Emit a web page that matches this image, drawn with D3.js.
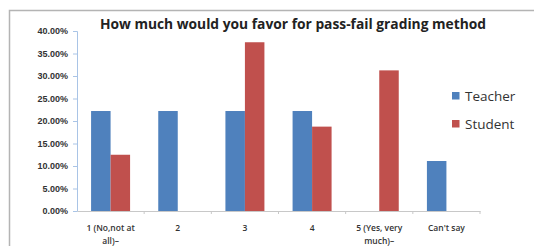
<!DOCTYPE html>
<html>
<head>
<meta charset="utf-8">
<script src="https://cdn.jsdelivr.net/npm/d3@7"></script>
<style>
  body { margin: 0; background: #fff; }
  svg { display: block; font-family: 'Open Sans', 'Liberation Sans', sans-serif; }
</style>
</head>
<body>
<div id="chart"></div>
<script>
const categories = ['1 (No,not at all)\u2013', '2', '3', '4', '5 (Yes, very much)\u2013', "Can't say"];
const catLines = [['1 (No,not at', 'all)\u2013'], ['2'], ['3'], ['4'], ['5 (Yes, very', 'much)\u2013'], ["Can't say"]];
const teacher = [22.22, 22.22, 22.22, 22.22, 0, 11.11];
const student = [12.5, 0, 37.5, 18.75, 31.25, 0];
const seriesNames = ['Teacher', 'Student'];
const colors = ['#4F81BD', '#C0504D'];
const yTicks = [0, 5, 10, 15, 20, 25, 30, 35, 40];

const W = 534, H = 246;
const margin = { top: 31, right: 54, bottom: 35, left: 77 };
const width = W - margin.left - margin.right;
const height = H - margin.top - margin.bottom;

const svg = d3.select('#chart').append('svg').attr('width', W).attr('height', H);

// chart frame (only top and left edges are visible in the crop)
svg.append('path')
  .attr('d', `M9.5,${H} V10.5 H${W}`)
  .attr('fill', 'none')
  .attr('stroke', '#b4b4b4')
  .attr('stroke-width', 1.5);

svg.append('text')
  .attr('x', 293)
  .attr('y', 29)
  .attr('text-anchor', 'middle')
  .attr('font-weight', 'bold')
  .attr('font-size', 13.8)
  .attr('fill', '#222')
  .text('How much would you favor for pass-fail grading method');

const g = svg.append('g').attr('transform', `translate(${margin.left},${margin.top})`);

const x = d3.scaleBand().domain(categories).range([0, width]);
const x1 = d3.scaleBand().domain(seriesNames).range([x.bandwidth() / 2 - 19.5, x.bandwidth() / 2 + 19.5]);
const y = d3.scaleLinear().domain([0, 40]).range([height, 0]);

// y axis
const yAxis = g.append('g')
  .call(d3.axisLeft(y).tickValues(yTicks).tickSize(4).tickPadding(5)
    .tickFormat(d => d.toFixed(2) + '%'));
yAxis.select('.domain').attr('stroke', '#a9c4e6');
yAxis.selectAll('.tick line').attr('stroke', '#a9c4e6');
yAxis.selectAll('text').attr('font-size', 9).attr('font-weight', 600).attr('fill', '#333');

// bars
const data = [teacher, student];
data.forEach((vals, si) => {
  g.selectAll('.bar' + si)
    .data(vals)
    .enter()
    .append('rect')
    .attr('x', (d, i) => x(categories[i]) + x1(seriesNames[si]))
    .attr('y', d => y(d))
    .attr('width', x1.bandwidth())
    .attr('height', d => height - y(d))
    .attr('fill', colors[si]);
});

// x axis
const xAxis = g.append('g')
  .attr('transform', `translate(0,${height})`)
  .call(d3.axisBottom(x).tickSize(0).tickFormat(''));
xAxis.select('.domain').attr('stroke', '#c8c8c8');
g.append('g').selectAll('line')
  .data(categories)
  .enter()
  .append('line')
  .attr('x1', d => x(d) + x.bandwidth())
  .attr('x2', d => x(d) + x.bandwidth())
  .attr('y1', height)
  .attr('y2', height + 3)
  .attr('stroke', '#c8c8c8');

g.selectAll('.cat')
  .data(catLines)
  .enter()
  .append('text')
  .attr('text-anchor', 'middle')
  .attr('font-size', 8.5)
  .attr('font-weight', 600)
  .attr('fill', '#333')
  .attr('transform', (d, i) => `translate(${x(categories[i]) + x.bandwidth() / 2},${height + 20})`)
  .selectAll('tspan')
  .data(d => d)
  .enter()
  .append('tspan')
  .attr('x', 0)
  .attr('dy', (d, i) => i === 0 ? 0 : 13)
  .text(d => d);

// legend
const legend = svg.append('g').attr('transform', 'translate(452,0)');
seriesNames.forEach((s, i) => {
  legend.append('rect')
    .attr('x', 0)
    .attr('y', 92 + i * 28)
    .attr('width', 7.5)
    .attr('height', 7.5)
    .attr('fill', colors[i]);
  legend.append('text')
    .attr('x', 13)
    .attr('y', 100.5 + i * 28)
    .attr('font-size', 13.5)
    .attr('fill', '#333')
    .text(s);
});
</script>
</body>
</html>
